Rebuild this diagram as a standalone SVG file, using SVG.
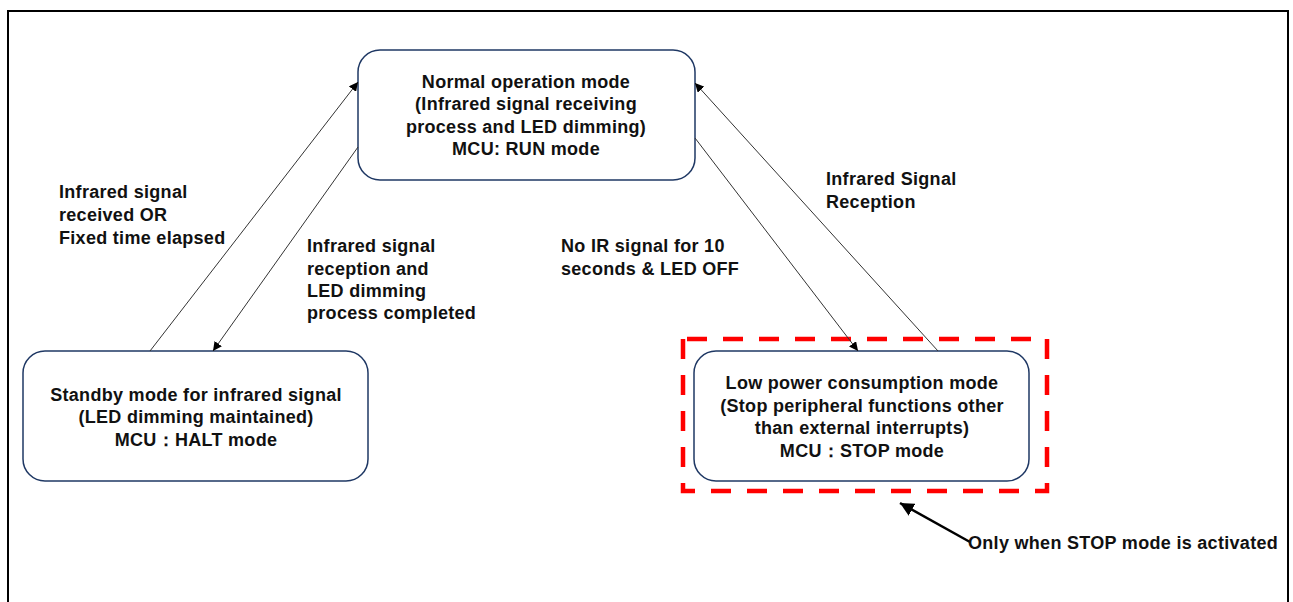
<svg xmlns="http://www.w3.org/2000/svg" width="1293" height="602" viewBox="0 0 1293 602">
<defs>
<style>
.node{fill:#fff;stroke:#1f3864;stroke-width:1.5}
.t{font-family:"Liberation Sans",Arial,sans-serif;font-weight:bold;font-size:18px;letter-spacing:0.3px;fill:#111}
.c{text-anchor:middle}
.ln{stroke:#333;stroke-width:1;fill:none}
</style>
<marker id="ah" viewBox="0 0 10 10" refX="10" refY="5" markerWidth="9" markerHeight="9" markerUnits="userSpaceOnUse" orient="auto">
<path d="M0,0 L10,5 L0,10 z" fill="#000"/>
</marker>
<marker id="ah2" viewBox="0 0 10 10" refX="10" refY="5" markerWidth="5.5" markerHeight="5.5" orient="auto">
<path d="M0,0 L10,5 L0,10 z" fill="#000"/>
</marker>
</defs>
<rect width="1293" height="602" fill="#fff"/>
<path d="M8,610 V11 H1288 V610" fill="none" stroke="#000" stroke-width="2"/>
<g id="normal">
<rect class="node" x="358" y="50" width="337" height="130" rx="22"/>
<text class="t c" x="526" y="88">Normal operation mode</text>
<text class="t c" x="526" y="110">(Infrared signal receiving</text>
<text class="t c" x="526" y="133">process and LED dimming)</text>
<text class="t c" x="526" y="155">MCU: RUN mode</text>
</g>
<g id="standby">
<rect class="node" x="23" y="351" width="345" height="130" rx="22"/>
<text class="t c" x="196" y="401">Standby mode for infrared signal</text>
<text class="t c" x="196" y="423">(LED dimming maintained)</text>
<text class="t c" x="196" y="446">MCU：HALT mode</text>
</g>
<g id="lowpower">
<rect class="node" x="694" y="351" width="335" height="130" rx="22"/>
<text class="t c" x="862" y="389">Low power consumption mode</text>
<text class="t c" x="862" y="412">(Stop peripheral functions other</text>
<text class="t c" x="862" y="434">than external interrupts)</text>
<text class="t c" x="862" y="457">MCU：STOP mode</text>
</g>
<g id="stop-highlight">
<rect x="683" y="339" width="364" height="152" fill="none" stroke="#ff0000" stroke-width="4.5" stroke-dasharray="20 16" stroke-dashoffset="-4"/>
</g>
<g id="connectors">
<line class="ln" x1="150" y1="351" x2="358" y2="82" marker-end="url(#ah)"/>
<line class="ln" x1="358" y1="147" x2="213" y2="351" marker-end="url(#ah)"/>
<line class="ln" x1="695" y1="138" x2="858" y2="351" marker-end="url(#ah)"/>
<line class="ln" x1="938" y1="351" x2="695" y2="83" marker-end="url(#ah)"/>
<line x1="970" y1="542" x2="900" y2="503" stroke="#000" stroke-width="2.5" marker-end="url(#ah2)"/>
</g>
<g id="labels">
<text class="t" x="59" y="198">Infrared signal</text>
<text class="t" x="59" y="221">received OR</text>
<text class="t" x="59" y="244">Fixed time elapsed</text>
<text class="t" x="307" y="252">Infrared signal</text>
<text class="t" x="307" y="275">reception and</text>
<text class="t" x="307" y="297">LED dimming</text>
<text class="t" x="307" y="319">process completed</text>
<text class="t" x="561" y="252">No IR signal for 10</text>
<text class="t" x="561" y="275">seconds &amp; LED OFF</text>
<text class="t" x="826" y="185">Infrared Signal</text>
<text class="t" x="826" y="208">Reception</text>
<text class="t" x="968" y="549">Only when STOP mode is activated</text>
</g>
</svg>
